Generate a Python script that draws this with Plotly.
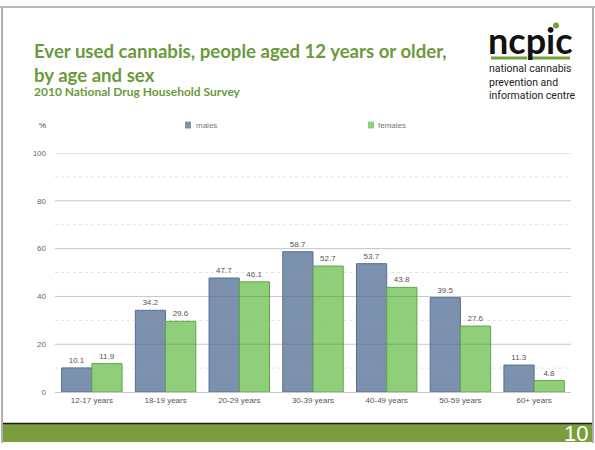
import plotly.graph_objects as go

W, H = 595, 450

age_groups = ["12-17 years", "18-19 years", "20-29 years", "30-39 years",
              "40-49 years", "50-59 years", "60+ years"]
males = [10.1, 34.2, 47.7, 58.7, 53.7, 39.5, 11.3]
females = [11.9, 29.6, 46.1, 52.7, 43.8, 27.6, 4.8]
y_ticks = [0, 20, 40, 60, 80, 100]
minor_ticks = [10, 30, 50, 70, 90]

GREEN_TITLE = "#6b9a3c"
MALE_FILL, MALE_LINE = "#7b91ad", "#56708f"
FEMALE_FILL, FEMALE_LINE = "#8fcf79", "#5ea747"
AXIS_FONT = "Liberation Sans, Arial, sans-serif"


def px(x):
    return x / W


def py(y):
    return 1 - y / H


X0, X1 = 55, 571      # plot area, pixels
Y_TOP, Y_BOT = 152, 396

fig = go.Figure()
for name, vals, fill, edge in [("males", males, MALE_FILL, MALE_LINE),
                               ("females", females, FEMALE_FILL, FEMALE_LINE)]:
    fig.add_trace(go.Bar(
        x=age_groups, y=vals, name=name,
        marker=dict(color=fill, line=dict(color=edge, width=1)),
        text=[f"{v:.1f}" for v in vals], textposition="outside",
        textfont=dict(size=8, color="#555555", family=AXIS_FONT),
        cliponaxis=False, showlegend=False,
    ))

shapes = []
# gridlines drawn over the bars
for v in y_ticks[1:]:
    shapes.append(dict(type="line", xref="paper", yref="y", x0=px(X0), x1=px(X1),
                       y0=v, y1=v, layer="above",
                       line=dict(color="rgba(110,110,110,0.4)", width=1)))
for v in minor_ticks:
    shapes.append(dict(type="line", xref="paper", yref="y", x0=px(X0), x1=px(X1),
                       y0=v, y1=v, layer="above",
                       line=dict(color="rgba(160,160,160,0.3)", width=1, dash="dot")))

# slide frame
shapes += [
    dict(type="line", xref="paper", yref="paper", x0=0, x1=1, y0=py(3), y1=py(3),
         line=dict(color="#b8b8b8", width=2)),
    dict(type="line", xref="paper", yref="paper", x0=px(2), x1=px(2), y0=py(3), y1=py(448),
         line=dict(color="#b0b0b0", width=2)),
    dict(type="line", xref="paper", yref="paper", x0=px(593), x1=px(593), y0=py(3), y1=py(448),
         line=dict(color="#b0b0b0", width=2)),
    # footer band
    dict(type="rect", xref="paper", yref="paper", x0=px(3), x1=px(592), y0=py(447), y1=py(428),
         fillcolor="#7b9e3c", line=dict(width=0)),
    dict(type="line", xref="paper", yref="paper", x0=px(3), x1=px(592), y0=py(428), y1=py(428),
         line=dict(color="#1a1a1a", width=1.5)),
    # logo underline and dot
    dict(type="line", xref="paper", yref="paper", x0=px(491), x1=px(527), y0=py(55), y1=py(55),
         line=dict(color="#6fa23a", width=3)),
    dict(type="line", xref="paper", yref="paper", x0=px(531), x1=px(570), y0=py(55), y1=py(55),
         line=dict(color="#6fa23a", width=3)),
    dict(type="circle", xref="paper", yref="paper", x0=px(553), x1=px(559), y0=py(25), y1=py(19),
         fillcolor="#6fa23a", line=dict(width=0)),
    # legend swatches
    dict(type="rect", xref="paper", yref="paper", x0=px(185), x1=px(191), y0=py(127), y1=py(120),
         fillcolor=MALE_FILL, line=dict(width=0)),
    dict(type="rect", xref="paper", yref="paper", x0=px(368), x1=px(374), y0=py(127), y1=py(120),
         fillcolor=FEMALE_FILL, line=dict(width=0)),
]


def note(text, x, y, size, color, family, xanchor="left", **kw):
    return dict(text=text, xref="paper", yref="paper", x=px(x), y=py(y),
                xanchor=xanchor, yanchor="middle", showarrow=False,
                font=dict(family=family, size=size, color=color), **kw)


annotations = [
    note("<b>Ever used cannabis, people aged 12 years or older,</b>", 32, 48, 18.6,
         GREEN_TITLE, "Lato, sans-serif"),
    note("<b>by age and sex</b>", 32, 72, 18.6, GREEN_TITLE, "Lato, sans-serif"),
    note("<b>2010 National Drug Household Survey</b>", 32, 89, 12,
         GREEN_TITLE, "Lato, sans-serif"),
    note("<b>ncpic</b>", 486, 37, 36, "#111111", "Lato, sans-serif"),
    note("national cannabis<br>prevention and<br>information centre", 487, 80, 10.5,
         "#222222", "Roboto, sans-serif", align="left"),
    note("%", 42, 124, 8, "#444444", AXIS_FONT, xanchor="center"),
    note("males", 194, 123.5, 8, "#777777", AXIS_FONT),
    note("females", 376, 123.5, 8, "#777777", AXIS_FONT),
    note("10", 590, 438, 22, "#ffffff", "Liberation Sans, sans-serif", xanchor="right"),
]

fig.update_layout(
    width=W, height=H, autosize=False,
    margin=dict(l=0, r=0, t=0, b=0),
    paper_bgcolor="#ffffff", plot_bgcolor="#ffffff",
    barmode="group", bargap=0.18, bargroupgap=0.0,
    shapes=shapes, annotations=annotations,
    showlegend=False,
    xaxis=dict(domain=[px(X0), px(X1)], anchor="y",
               showgrid=False, showline=True, linecolor="#c8c8c8", linewidth=1,
               ticks="", tickfont=dict(family=AXIS_FONT, size=8, color="#555555"),
               fixedrange=True),
    yaxis=dict(domain=[py(Y_BOT), py(Y_TOP)], anchor="x", range=[0, 100],
               tickvals=y_ticks, showgrid=False, zeroline=False, showline=False,
               ticks="", ticklabelstandoff=8,
               tickfont=dict(family=AXIS_FONT, size=8, color="#666666"),
               fixedrange=True),
)

fig.write_html("out.html")
